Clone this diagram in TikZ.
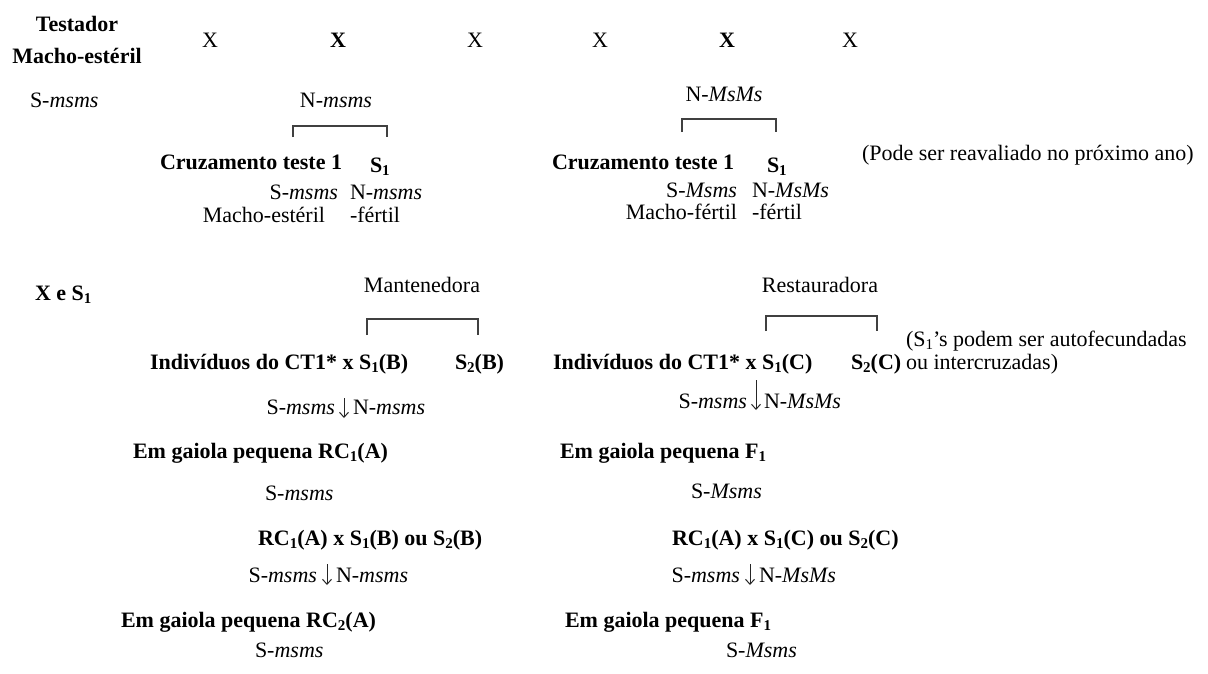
\documentclass[tikz,border=0pt]{standalone}
\usepackage{fontspec}
\setmainfont{Liberation Serif}
\usetikzlibrary{arrows.meta}
\newcommand\lsub[1]{\raisebox{-3pt}{\fontsize{15}{15}\selectfont #1}}
\begin{document}
\begin{tikzpicture}[x=1pt,y=-1pt,
  every node/.style={inner sep=0pt,outer sep=0pt,text=black},
  txt/.style={font=\fontsize{22}{26}\selectfont},
  btxt/.style={font=\fontsize{22}{26}\selectfont\bfseries},
  brk/.style={draw=black!75,line width=2.4pt},
  arr/.style={draw=black!85,line width=1pt,-{Straight Barb[length=5pt,width=9pt]}}
]
\useasboundingbox[fill=white] (0,0) rectangle (1208,673);

% top row
\node[btxt,anchor=base] (testador) at (77,31) {Testador};
\node[btxt,anchor=base] (machoest) at (77,63) {Macho-estéril};
\node[txt,anchor=base] (x1) at (210,47) {X};
\node[btxt,anchor=base] (x2) at (338,47) {X};
\node[txt,anchor=base] (x3) at (475,47) {X};
\node[txt,anchor=base] (x4) at (600,47) {X};
\node[btxt,anchor=base] (x5) at (727,47) {X};
\node[txt,anchor=base] (x6) at (850,47) {X};

\node[txt,anchor=base west] (smsms0) at (30,107) {S-\textit{msms}};
\node[txt,anchor=base] (nmsms0) at (336,107) {N-\textit{msms}};
\node[txt,anchor=base] (nMsMs0) at (724,101) {N-\textit{MsMs}};

\draw[brk] (293,137) -- (293,126) -- (387,126) -- (387,137);
\draw[brk] (682,132) -- (682,119) -- (776,119) -- (776,132);

\node[btxt,anchor=base west] (ct1) at (160,169) {Cruzamento teste 1};
\node[btxt,anchor=base west] (s1a) at (370,172) {S\lsub{1}};
\node[btxt,anchor=base west] (ct2) at (552,169) {Cruzamento teste 1};
\node[btxt,anchor=base west] (s1b) at (767,172) {S\lsub{1}};
\node[txt,anchor=base west] (pode) at (862,160) {(Pode ser reavaliado no próximo ano)};

\node[txt,anchor=base east] (sl1) at (338,199) {S-\textit{msms}};
\node[txt,anchor=base west] (nl1) at (350,199) {N-\textit{msms}};
\node[txt,anchor=base east] (mel) at (325,222) {Macho-estéril};
\node[txt,anchor=base west] (fl) at (350,222) {-fértil};

\node[txt,anchor=base east] (sr1) at (737,197) {S-\textit{Msms}};
\node[txt,anchor=base west] (nr1) at (752,197) {N-\textit{MsMs}};
\node[txt,anchor=base east] (mfr) at (737,219) {Macho-fértil};
\node[txt,anchor=base west] (fr) at (752,219) {-fértil};

% lower part
\node[btxt,anchor=base west] (xes1) at (35,300) {X e S\lsub{1}};
\node[txt,anchor=base] (mant) at (422,292) {Mantenedora};
\node[txt,anchor=base] (rest) at (820,292) {Restauradora};
\draw[brk] (367,335) -- (367,319) -- (478,319) -- (478,335);
\draw[brk] (766,331) -- (766,316) -- (877,316) -- (877,331);

\node[btxt,anchor=base west] (indl) at (150,369) {Indivíduos do CT1* x S\lsub{1}(B)};
\node[btxt,anchor=base west] (s2b) at (455,369) {S\lsub{2}(B)};
\node[btxt,anchor=base west] (indr) at (553,369) {Indivíduos do CT1* x S\lsub{1}(C)};
\node[btxt,anchor=base west] (s2c) at (851,369) {S\lsub{2}(C)};
\node[txt,anchor=base west] (auto) at (906,346) {(S\lsub{1}’s podem ser autofecundadas};
\node[txt,anchor=base west] (inter) at (906,369) {ou intercruzadas)};

% arrow row 1
\coordinate (al1t) at (344,398); \coordinate (al1b) at (344,418);
\draw[arr] (al1t) -- (al1b);
\node[txt,anchor=base east] (sal1) at (335,414) {S-\textit{msms}};
\node[txt,anchor=base west] (nal1) at (353,414) {N-\textit{msms}};
\coordinate (ar1t) at (756,380); \coordinate (ar1b) at (756,410);
\draw[arr] (ar1t) -- (ar1b);
\node[txt,anchor=base east] (sar1) at (747,408) {S-\textit{msms}};
\node[txt,anchor=base west] (nar1) at (764,408) {N-\textit{MsMs}};

\node[btxt,anchor=base west] (egl1) at (133,458) {Em gaiola pequena RC\lsub{1}(A)};
\node[btxt,anchor=base west] (egr1) at (560,458) {Em gaiola pequena F\lsub{1}};
\node[txt,anchor=base west] (sl2) at (265,500) {S-\textit{msms}};
\node[txt,anchor=base west] (sr2) at (691,498) {S-\textit{Msms}};

\node[btxt,anchor=base west] (rcl) at (258,545) {RC\lsub{1}(A) x S\lsub{1}(B) ou S\lsub{2}(B)};
\node[btxt,anchor=base west] (rcr) at (672,545) {RC\lsub{1}(A) x S\lsub{1}(C) ou S\lsub{2}(C)};

% arrow row 2
\coordinate (al2t) at (327,564); \coordinate (al2b) at (327,585);
\draw[arr] (al2t) -- (al2b);
\node[txt,anchor=base east] (sal2) at (317,582) {S-\textit{msms}};
\node[txt,anchor=base west] (nal2) at (336,582) {N-\textit{msms}};
\coordinate (ar2t) at (750,564); \coordinate (ar2b) at (750,585);
\draw[arr] (ar2t) -- (ar2b);
\node[txt,anchor=base east] (sar2) at (740,582) {S-\textit{msms}};
\node[txt,anchor=base west] (nar2) at (759,582) {N-\textit{MsMs}};

\node[btxt,anchor=base west] (egl2) at (121,627) {Em gaiola pequena RC\lsub{2}(A)};
\node[btxt,anchor=base west] (egr2) at (565,627) {Em gaiola pequena F\lsub{1}};
\node[txt,anchor=base west] (sl3) at (255,657) {S-\textit{msms}};
\node[txt,anchor=base west] (sr3) at (726,657) {S-\textit{Msms}};
\end{tikzpicture}
\end{document}
